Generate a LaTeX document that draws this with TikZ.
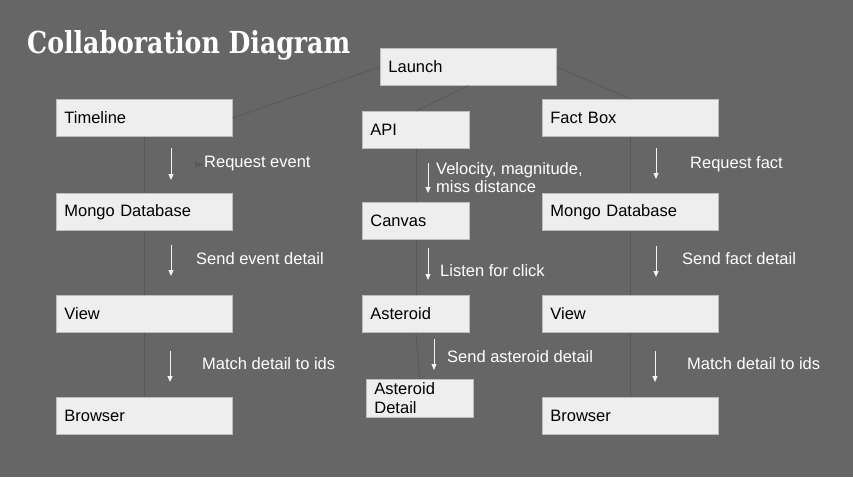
\documentclass[tikz,border=0pt]{standalone}
\usepackage{fontspec}
\setmainfont{Liberation Sans}
\newfontfamily\titlefont{DejaVu Serif}
\usetikzlibrary{arrows.meta}
\definecolor{bg}{HTML}{666666}
\definecolor{boxfill}{HTML}{EEEEEE}
\definecolor{boxline}{HTML}{BDBDBD}
\definecolor{linkc}{HTML}{585858}
\definecolor{arrc}{HTML}{F2F2F2}
\tikzset{
  box/.style={draw=boxline, line width=0.8pt, fill=boxfill, anchor=north west,
    minimum height=37pt, inner xsep=8pt, inner ysep=0pt, align=left,
    font=\fontsize{16.5}{19}\selectfont, text=black},
  widebox/.style={box, text width=160pt},
  narrowbox/.style={box, text width=91pt},
  link/.style={draw=linkc, line width=0.8pt},
  flow/.style={draw=arrc, line width=1pt, -{Triangle[width=5pt,length=6pt]}},
  lbl/.style={anchor=west, text=white, inner sep=0pt, align=left,
    font=\fontsize{16.5}{19}\selectfont}
}
\begin{document}
\begin{tikzpicture}[x=1pt,y=-1pt]
\fill[bg] (0,0) rectangle (853,477);
\useasboundingbox (0,0) rectangle (853,477);

\node[anchor=base west, text=white, inner sep=0pt] (title) at (27,53)
  {\resizebox{323pt}{23pt}{\titlefont\bfseries\fontsize{28}{30}\selectfont Collaboration Diagram}};

% boxes
\node[widebox] (launch) at (380,48) {Launch};
\node[widebox] (timeline) at (56,99) {Timeline};
\node[narrowbox] (api) at (362,111) {API};
\node[widebox] (fact) at (542,99) {Fact Box};
\node[widebox] (mongoL) at (56,193) {Mongo Database};
\node[narrowbox] (canvas) at (362,202) {Canvas};
\node[widebox] (mongoR) at (542,193) {Mongo Database};
\node[widebox] (viewL) at (56,295) {View};
\node[narrowbox] (asteroid) at (362,295) {Asteroid};
\node[widebox] (viewR) at (542,295) {View};
\node[widebox] (browserL) at (56,397) {Browser};
\node[narrowbox, minimum height=38pt] (astdetail) at (366,379) {Asteroid\\Detail};
\node[widebox] (browserR) at (542,397) {Browser};

% thin links
\draw[link] (launch.west) -- (timeline.east);
\draw[link] (launch.south) -- (api.north);
\draw[link] (launch.east) -- (fact.north);
\draw[link] (timeline.south) -- (mongoL.north);
\draw[link] (mongoL.south) -- (viewL.north);
\draw[link] (viewL.south) -- (browserL.north);
\draw[link] (fact.south) -- (mongoR.north);
\draw[link] (mongoR.south) -- (viewR.north);
\draw[link] (viewR.south) -- (browserR.north);
\draw[link] (api.south) -- (canvas.north);
\draw[link] (canvas.south) -- (asteroid.north);
\draw[link] (asteroid.south) -- (astdetail.north);

% white flow arrows
\coordinate (a1s) at (171,148); \coordinate (a1e) at (171,180);
\coordinate (a2s) at (171,245); \coordinate (a2e) at (171,276);
\coordinate (a3s) at (170,351); \coordinate (a3e) at (170,382);
\coordinate (m1s) at (428,163); \coordinate (m1e) at (428,193);
\coordinate (m2s) at (428,248); \coordinate (m2e) at (428,280);
\coordinate (m3s) at (434,339); \coordinate (m3e) at (434,370);
\coordinate (r1s) at (656,148); \coordinate (r1e) at (656,179);
\coordinate (r2s) at (656,246); \coordinate (r2e) at (656,277);
\coordinate (r3s) at (655,351); \coordinate (r3e) at (655,382);
\draw[flow] (a1s) -- (a1e);
\draw[flow] (a2s) -- (a2e);
\draw[flow] (a3s) -- (a3e);
\draw[flow] (m1s) -- (m1e);
\draw[flow] (m2s) -- (m2e);
\draw[flow] (m3s) -- (m3e);
\draw[flow] (r1s) -- (r1e);
\draw[flow] (r2s) -- (r2e);
\draw[flow] (r3s) -- (r3e);

\fill[linkc] (195,161.5) -- (203,164.5) -- (195,167.5) -- cycle;

% labels
\node[lbl] (l1) at (204,164) {Request event};
\node[lbl] (l2) at (196,259) {Send event detail};
\node[lbl] (l3) at (202,364) {Match detail to ids};
\node[lbl, font=\fontsize{16.5}{18}\selectfont] (l4) at (436,178) {Velocity, magnitude,\\miss distance};
\node[lbl] (l5) at (440,271) {Listen for click};
\node[lbl] (l6) at (447,357) {Send asteroid detail};
\node[lbl] (l7) at (690,164) {Request fact};
\node[lbl] (l8) at (682,259) {Send fact detail};
\node[lbl] (l9) at (687,364) {Match detail to ids};
\end{tikzpicture}
\end{document}
